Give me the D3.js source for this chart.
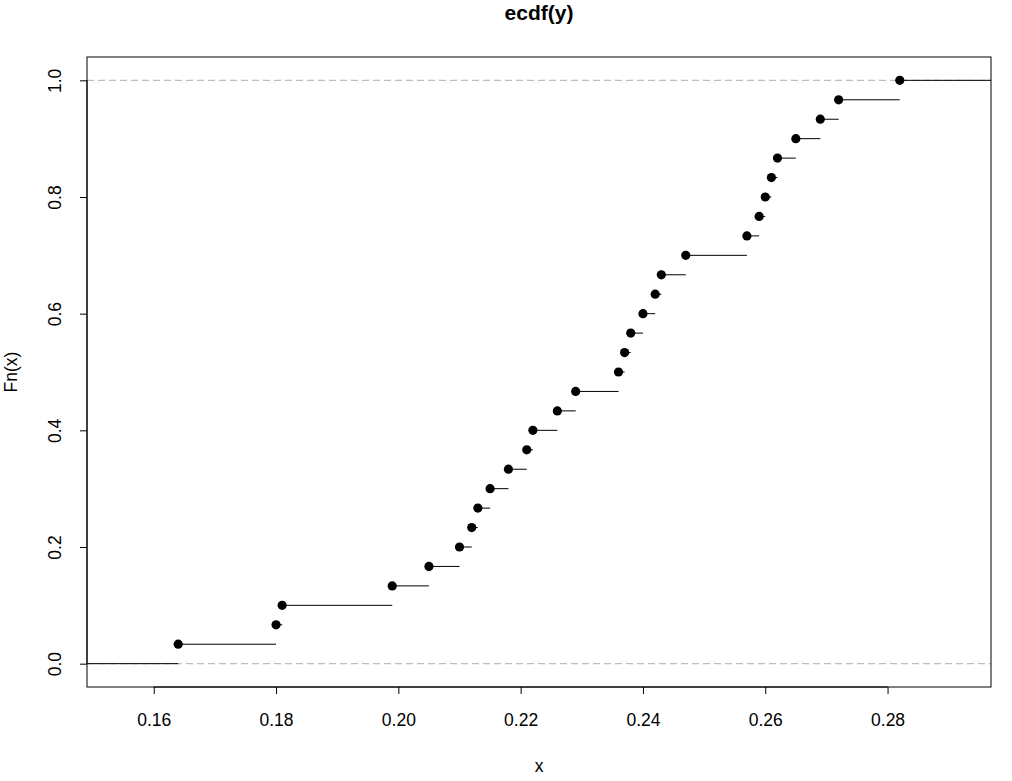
<!DOCTYPE html>
<html>
<head>
<meta charset="utf-8">
<script src="https://cdn.jsdelivr.net/npm/d3@7"></script>
<style>
  html, body { margin: 0; padding: 0; background: #fff; }
  svg { display: block; font-family: "Liberation Sans", Arial, Helvetica, sans-serif; }
</style>
</head>
<body>
<svg id="chart" width="1012" height="781"></svg>
<script>
// Sorted sample values (knots of the ECDF)
const knots = [0.164, 0.180, 0.181, 0.199, 0.205, 0.210, 0.212, 0.213, 0.215, 0.218,
               0.221, 0.222, 0.226, 0.229, 0.236, 0.237, 0.238, 0.240, 0.242, 0.243,
               0.247, 0.257, 0.259, 0.260, 0.261, 0.262, 0.265, 0.269, 0.272, 0.282];
const xTicks = [0.16, 0.18, 0.20, 0.22, 0.24, 0.26, 0.28];
const yTicks = [0.0, 0.2, 0.4, 0.6, 0.8, 1.0];
const titleText = "ecdf(y)";
const xLabel = "x";
const yLabel = "Fn(x)";

const n = knots.length;
const fn = knots.map((k, i) => (i + 1) / n);

const W = 1012, H = 781;
const margin = { left: 87, right: 21, top: 57, bottom: 94 };
const svg = d3.select("#chart");

// R-like limits: range +/- max(0.08*range, median diff), then 4% extension
const r0 = d3.min(knots), r1 = d3.max(knots);
const diffs = knots.slice(1).map((k, i) => k - knots[i]);
const dr = Math.max(0.08 * (r1 - r0), d3.median(diffs));
let xl = [r0 - dr, r1 + dr];
const ext = 0.04 * (xl[1] - xl[0]);
const xDomain = [xl[0] - ext, xl[1] + ext];
const yDomain = [-0.04, 1.04];

const x = d3.scaleLinear().domain(xDomain).range([margin.left, W - margin.right]);
const y = d3.scaleLinear().domain(yDomain).range([H - margin.bottom, margin.top]);

const plot = svg.append("g");
svg.append("defs").append("clipPath").attr("id", "clip")
  .append("rect").attr("x", margin.left).attr("y", margin.top)
  .attr("width", W - margin.left - margin.right).attr("height", H - margin.top - margin.bottom);

const inner = plot.append("g").attr("clip-path", "url(#clip)");

// reference lines at 0 and 1
inner.selectAll("line.ref").data([0, 1]).enter().append("line")
  .attr("class", "ref")
  .attr("x1", margin.left).attr("x2", W - margin.right)
  .attr("y1", d => y(d)).attr("y2", d => y(d))
  .attr("stroke", "#bdbdbd").attr("stroke-width", 1.2)
  .attr("stroke-dasharray", "7,4");

// step segments
const segs = [{ x0: xDomain[0], x1: knots[0], v: 0 }];
for (let i = 0; i < n; i++) {
  segs.push({ x0: knots[i], x1: i < n - 1 ? knots[i + 1] : xDomain[1], v: fn[i] });
}
inner.selectAll("line.seg").data(segs).enter().append("line")
  .attr("class", "seg")
  .attr("x1", d => x(d.x0)).attr("x2", d => x(d.x1))
  .attr("y1", d => y(d.v)).attr("y2", d => y(d.v))
  .attr("stroke", "#000").attr("stroke-width", 1);

// points
inner.selectAll("circle").data(knots).enter().append("circle")
  .attr("cx", d => x(d)).attr("cy", (d, i) => y(fn[i]))
  .attr("r", 4.6).attr("fill", "#000");

// box
plot.append("rect")
  .attr("x", margin.left).attr("y", margin.top)
  .attr("width", W - margin.left - margin.right).attr("height", H - margin.top - margin.bottom)
  .attr("fill", "none").attr("stroke", "#000").attr("stroke-width", 1);

// x axis
const xAxis = d3.axisBottom(x).tickValues(xTicks).tickSize(7).tickPadding(20)
  .tickFormat(d3.format(".2f"));
const gx = svg.append("g").attr("transform", `translate(0,${H - margin.bottom})`).call(xAxis);
gx.select(".domain").attr("d", `M${x(xTicks[0])},0H${x(xTicks[xTicks.length - 1])}`);
gx.selectAll("text").attr("font-size", 17.5).attr("fill", "#000")
  .attr("font-family", "Liberation Sans, Arial, sans-serif");

// y axis
const yAxis = d3.axisLeft(y).tickValues(yTicks).tickSize(7).tickFormat(d3.format(".1f"));
const gy = svg.append("g").attr("transform", `translate(${margin.left},0)`).call(yAxis);
gy.select(".domain").attr("d", `M0,${y(yTicks[0])}V${y(yTicks[yTicks.length - 1])}`);
gy.selectAll("text")
  .attr("font-size", 17.5).attr("fill", "#000")
  .attr("font-family", "Liberation Sans, Arial, sans-serif")
  .attr("x", null).attr("dy", null)
  .attr("text-anchor", "middle")
  .attr("transform", `translate(-32,0) rotate(-90)`)
  .attr("dy", "0.36em");

// title & labels
svg.append("text").attr("x", (margin.left + W - margin.right) / 2).attr("y", 20)
  .attr("text-anchor", "middle").attr("font-weight", "bold").attr("font-size", 21)
  .text(titleText);
svg.append("text").attr("x", (margin.left + W - margin.right) / 2).attr("y", 772)
  .attr("text-anchor", "middle").attr("font-size", 17.5).text(xLabel);
svg.append("text")
  .attr("transform", `translate(17,${(margin.top + H - margin.bottom) / 2}) rotate(-90)`)
  .attr("text-anchor", "middle").attr("font-size", 17.5).text(yLabel);
</script>
</body>
</html>
